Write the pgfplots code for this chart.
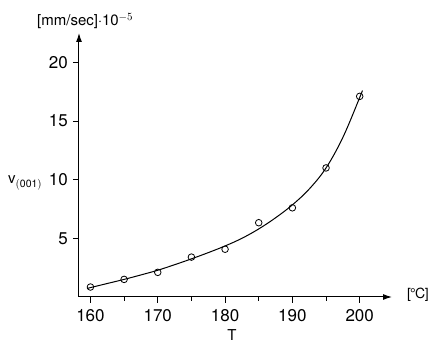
\documentclass[border=0pt]{standalone}
\usepackage{pgfplots}
\pgfplotsset{compat=1.18}
\usetikzlibrary{arrows.meta}
\usepackage{fontspec}
\setmainfont{TeX Gyre Heros}
\begin{document}
\fontsize{15}{18}\selectfont
\begin{tikzpicture}
\begin{axis}[
  at={(0,0)}, anchor=south west,
  scale only axis, width=313pt, height=264pt,
  xmin=158.3, xmax=204.8, ymin=0, ymax=22.5,
  axis lines=left,
  axis line style={line width=1pt, -{Latex[length=9pt,width=6pt]}},
  xtick={160,170,...,200}, minor xtick={165,175,185,195},
  ytick={5,10,15,20},
  tick align=outside, major tick length=6pt, minor tick length=4pt,
  tick style={line width=0.8pt, black},
  /pgf/number format/assume math mode=true,
  tick label style={font=\fontsize{17}{20}\selectfont},
  xticklabel style={yshift=-1pt},
  clip=false,
]
\addplot[smooth, line width=1pt, tension=0.6] coordinates {
 (159.5,0.72) (160,0.8) (162.5,1.15) (165,1.5) (167.5,1.88) (170,2.28)
 (172.5,2.75) (175,3.25) (177.5,3.78) (180,4.35) (182.5,5.0) (185,5.8)
 (187.5,6.75) (190,7.85) (192.5,9.2) (195,11.0) (197.5,13.6) (200,17.0) (200.4,17.6)
};
\addplot[only marks, mark=o, mark size=3.3pt, mark options={line width=0.8pt}] coordinates {
 (160,0.85) (165,1.5) (170,2.1) (175,3.4) (180,4.07) (185,6.33) (190,7.6) (195,11.0) (200,17.1)
};
\end{axis}
\node[anchor=base west, inner sep=0pt] at (-42pt,271pt) {[mm/sec]$\cdot$10$^{-5}$};
\node[anchor=base west, inner sep=0pt] at (-71pt,113pt) {v$_{\mathrm{(001)}}$};
\node[anchor=west, inner sep=0pt] at (328pt,2pt) {\fontsize{14}{16}\selectfont[\kern-1pt\textdegree\kern-0.5pt C\kern-0.5pt]};
\node[inner sep=0pt] at (153pt,-38pt) {T};
\pgfresetboundingbox
\path[use as bounding box] (-79pt,-47pt) rectangle (350pt,297pt);
\end{tikzpicture}
\end{document}
